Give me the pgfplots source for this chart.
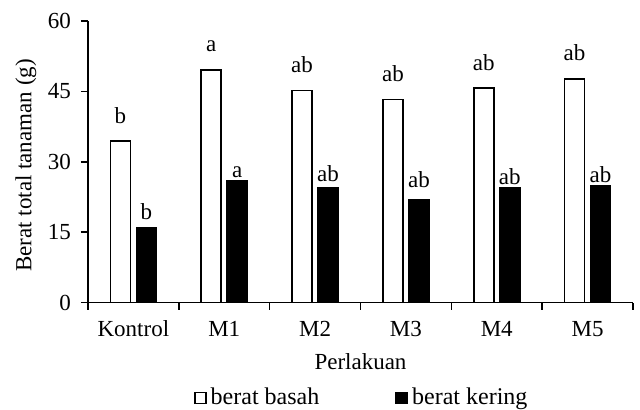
\documentclass[border=0pt]{standalone}
\usepackage{fontspec}
\setmainfont{Liberation Serif}
\usepackage{pgfplots}
\usepackage{pgfplotstable}
\pgfplotsset{compat=1.18}

\pgfplotstableread{
x y lab sh
0 34.4 b  8.5
1 49.6 a  8.5
2 45.2 ab 8.5
3 43.3 ab 8.5
4 45.7 ab 8.5
5 47.7 ab 8.5
}\basah

\pgfplotstableread{
x y lab sh
0 15.9 b  4
1 25.9 a  1.4
2 24.4 ab 2.8
3 21.9 ab 5.7
4 24.4 ab 1.5
5 24.8 ab 1.5
}\kering

\begin{document}
\begin{tikzpicture}[font=\fontsize{11.5}{13.8}\selectfont]
\useasboundingbox (-44pt,-53.65pt) rectangle (276pt,151.35pt);
\begin{axis}[
    scale only axis,
    width=272.5pt, height=140.85pt,
    ybar=3pt, bar width=10pt,
    xmin=-0.5, xmax=5.5,
    ymin=0, ymax=60,
    axis lines=left,
    axis line style={-, line width=0.8pt},
    tick align=outside,
    major tick length=3.5pt,
    tick style={line width=0.8pt, black},
    ytick={0,15,30,45,60},
    yticklabel style={xshift=-1.5pt},
    xtick={-0.5,0.5,...,5.5},
    xticklabels={},
    extra x ticks={0,1,2,3,4,5},
    extra x tick labels={Kontrol,M1,M2,M3,M4,M5},
    extra x tick style={major tick length=0pt},
    xticklabel style={anchor=base, yshift=-16.7pt},
    /pgf/number format/assume math mode=true,
    xlabel={Perlakuan},
    ylabel={Berat total tanaman (g)},
    xlabel style={at={(axis description cs:0.5,0)}, anchor=base, yshift=-33.2pt},
    ylabel style={at={(axis description cs:-0.114,0.487)}, anchor=center},
    legend style={at={(axis description cs:0.504,-0.338)}, anchor=center,
        draw=none, legend columns=2, font=\fontsize{12}{14}\selectfont,
        /tikz/every even column/.append style={column sep=36pt}},
    nodes near coords,
    point meta=explicit symbolic,
]
\addplot[draw=black, fill=white, line width=0.8pt,
    visualization depends on={\thisrow{sh} \as \mysh},
    every node near coord/.append style={inner sep=0pt, yshift=\mysh pt, black},
    legend image code/.code={\draw[draw=black, fill=white, line width=0.8pt] (0pt,-2.8pt) rectangle (5.6pt,2.8pt);}]
    table[x=x, y=y, meta=lab] {\basah};
\addlegendentry{berat basah}
\addplot[draw=black, fill=black, line width=0.8pt,
    visualization depends on={\thisrow{sh} \as \mysh},
    every node near coord/.append style={inner sep=0pt, yshift=\mysh pt, black},
    legend image code/.code={\draw[draw=black, fill=black, line width=0.8pt] (0pt,-2.8pt) rectangle (5.6pt,2.8pt);}]
    table[x=x, y=y, meta=lab] {\kering};
\addlegendentry{berat kering}
\end{axis}
\end{tikzpicture}
\end{document}
